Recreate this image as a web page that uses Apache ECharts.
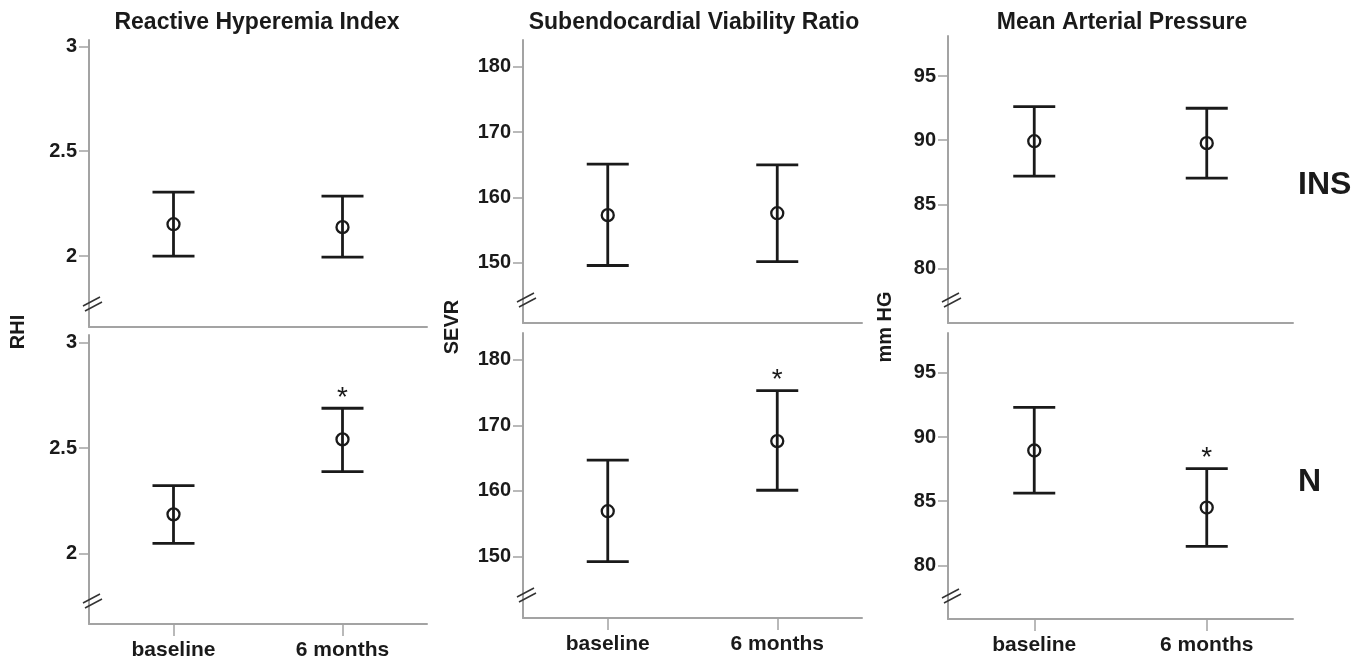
<!DOCTYPE html>
<html>
<head>
<meta charset="UTF-8">
<title>RHI / SEVR / MAP</title>
<script src="https://cdn.jsdelivr.net/npm/echarts@6/dist/echarts.min.js"></script>
<style>
  html, body { margin: 0; padding: 0; background: #fff; }
  #main { width: 1366px; height: 664px; }
</style>
</head>
<body>
<div id="main"></div>
<script>
// categories and values
var categories = ['baseline', '6 months'];

// Reactive Hyperemia Index
var rhiInsMean = [2.152, 2.138];
var rhiInsLow  = [2.000, 1.995];
var rhiInsHigh = [2.305, 2.286];
var rhiNMean   = [2.185, 2.541];
var rhiNLow    = [2.047, 2.388];
var rhiNHigh   = [2.321, 2.689];
var rhiTicks   = [2, 2.5, 3];

// Subendocardial Viability Ratio
var sevrInsMean = [157.3, 157.6];
var sevrInsLow  = [149.6, 150.2];
var sevrInsHigh = [165.1, 165.0];
var sevrNMean   = [156.9, 167.6];
var sevrNLow    = [149.2, 160.1];
var sevrNHigh   = [164.7, 175.3];
var sevrTicks   = [150, 160, 170, 180];

// Mean Arterial Pressure
var mapInsMean = [89.92, 89.77];
var mapInsLow  = [87.20, 87.04];
var mapInsHigh = [92.62, 92.49];
var mapNMean   = [88.95, 84.51];
var mapNLow    = [85.63, 81.48];
var mapNHigh   = [92.31, 87.54];
var mapTicks   = [80, 85, 90, 95];

// significance marks (*) per category
var sigIns = [0, 0];
var sigN   = [0, 1];

var FONT = "'Liberation Sans', Arial, sans-serif";
var INK = '#1a1a1a';
var AXIS = '#a3a3a3';

var chart = echarts.init(document.getElementById('main'));

function rows(mean, low, high, sig) {
  return mean.map(function (m, i) { return [i, m, low[i], high[i], sig[i]]; });
}

// error bar: whisker, caps, open circle, optional asterisk
function renderErr(params, api) {
  var x = api.value(0);
  var pm = api.coord([x, api.value(1)]);
  var pl = api.coord([x, api.value(2)]);
  var ph = api.coord([x, api.value(3)]);
  var half = 21;
  var ls = { stroke: INK, lineWidth: 2.8 };
  var kids = [
    { type: 'line', shape: { x1: pm[0], y1: ph[1], x2: pm[0], y2: pl[1] }, style: ls },
    { type: 'line', shape: { x1: pm[0] - half, y1: ph[1], x2: pm[0] + half, y2: ph[1] }, style: ls },
    { type: 'line', shape: { x1: pm[0] - half, y1: pl[1], x2: pm[0] + half, y2: pl[1] }, style: ls },
    { type: 'circle', shape: { cx: pm[0], cy: pm[1], r: 6 }, style: { fill: 'none', stroke: INK, lineWidth: 2.3 } }
  ];
  if (api.value(4)) {
    kids.push({
      type: 'text',
      style: { text: '*', x: pm[0], y: ph[1] - 10, align: 'center', verticalAlign: 'middle',
               font: '28px ' + FONT, fill: INK }
    });
  }
  return { type: 'group', children: kids };
}

// "//" axis break mark near bottom of each y axis
function renderBreak(params, api) {
  var cs = params.coordSys;
  var bx = cs.x + 3, by = cs.y + cs.height - 24;
  var st = { stroke: '#333', lineWidth: 1.5 };
  return { type: 'group', children: [
    { type: 'line', shape: { x1: bx - 9, y1: by + 3, x2: bx + 8, y2: by - 6 }, style: st },
    { type: 'line', shape: { x1: bx - 7, y1: by + 8, x2: bx + 10, y2: by - 1 }, style: st }
  ] };
}

var grids = [
  { left: 89,  top: 40,  width: 338, height: 287 },
  { left: 89,  top: 335, width: 338, height: 289 },
  { left: 523, top: 40,  width: 339, height: 283 },
  { left: 523, top: 333, width: 339, height: 285 },
  { left: 948, top: 36,  width: 345, height: 287 },
  { left: 948, top: 333, width: 345, height: 286 }
];
var yRanges = [[1.662, 3.03], [1.664, 3.037], [140.8, 184.1], [140.6, 184.1], [75.75, 98.12], [75.83, 98.1]];
var yTicks = [rhiTicks, rhiTicks, sevrTicks, sevrTicks, mapTicks, mapTicks];
var panelData = [
  rows(rhiInsMean, rhiInsLow, rhiInsHigh, sigIns),
  rows(rhiNMean, rhiNLow, rhiNHigh, sigN),
  rows(sevrInsMean, sevrInsLow, sevrInsHigh, sigIns),
  rows(sevrNMean, sevrNLow, sevrNHigh, sigN),
  rows(mapInsMean, mapInsLow, mapInsHigh, sigIns),
  rows(mapNMean, mapNLow, mapNHigh, sigN)
];

var xAxes = [], yAxes = [], series = [];
grids.forEach(function (g, i) {
  var bottomRow = i % 2 === 1;
  xAxes.push({
    type: 'category', gridIndex: i, data: categories, boundaryGap: true,
    axisLine: { show: true, onZero: false, lineStyle: { color: AXIS, width: 2 } },
    axisTick: { show: bottomRow, alignWithLabel: true, length: 12, lineStyle: { color: AXIS, width: 1.5 } },
    axisLabel: { show: bottomRow, margin: 16, color: INK, fontSize: 21, fontWeight: 'bold', fontFamily: FONT },
    splitLine: { show: false }
  });
  yAxes.push({
    type: 'value', gridIndex: i, min: yRanges[i][0], max: yRanges[i][1],
    axisLine: { show: true, lineStyle: { color: AXIS, width: 2 } },
    axisTick: { show: true, length: 10, customValues: yTicks[i], lineStyle: { color: AXIS, width: 1.5 } },
    axisLabel: { show: true, margin: 12, customValues: yTicks[i], color: INK, fontSize: 20,
                 fontWeight: 'bold', fontFamily: FONT },
    splitLine: { show: false }
  });
  series.push({
    type: 'custom', xAxisIndex: i, yAxisIndex: i, renderItem: renderErr,
    data: panelData[i], encode: { x: 0, y: [1, 2, 3] }, silent: true, animation: false
  });
  series.push({
    type: 'custom', xAxisIndex: i, yAxisIndex: i, renderItem: renderBreak,
    data: [[0, yRanges[i][0]]], silent: true, animation: false, clip: false
  });
});

function titleAt(text, cx) {
  return { text: text, left: cx, top: 11, textAlign: 'center', padding: 0,
           textStyle: { fontSize: 23, fontWeight: 'bold', color: INK, fontFamily: FONT } };
}

var option = {
  backgroundColor: '#fff',
  animation: false,
  title: [
    titleAt('Reactive Hyperemia Index', 257),
    titleAt('Subendocardial Viability Ratio', 694),
    titleAt('Mean Arterial Pressure', 1122)
  ],
  grid: grids,
  xAxis: xAxes,
  yAxis: yAxes,
  series: series,
  graphic: [
    { type: 'text', x: 18, y: 332, rotation: Math.PI / 2,
      style: { text: 'RHI', align: 'center', verticalAlign: 'middle', font: 'bold 20px ' + FONT, fill: INK } },
    { type: 'text', x: 452, y: 327, rotation: Math.PI / 2,
      style: { text: 'SEVR', align: 'center', verticalAlign: 'middle', font: 'bold 20px ' + FONT, fill: INK } },
    { type: 'text', x: 885, y: 327, rotation: Math.PI / 2,
      style: { text: 'mm HG', align: 'center', verticalAlign: 'middle', font: 'bold 20px ' + FONT, fill: INK } },
    { type: 'text', x: 1298, y: 185,
      style: { text: 'INS', align: 'left', verticalAlign: 'middle', font: 'bold 32px ' + FONT, fill: INK } },
    { type: 'text', x: 1298, y: 482,
      style: { text: 'N', align: 'left', verticalAlign: 'middle', font: 'bold 32px ' + FONT, fill: INK } }
  ]
};

chart.setOption(option);
</script>
</body>
</html>
